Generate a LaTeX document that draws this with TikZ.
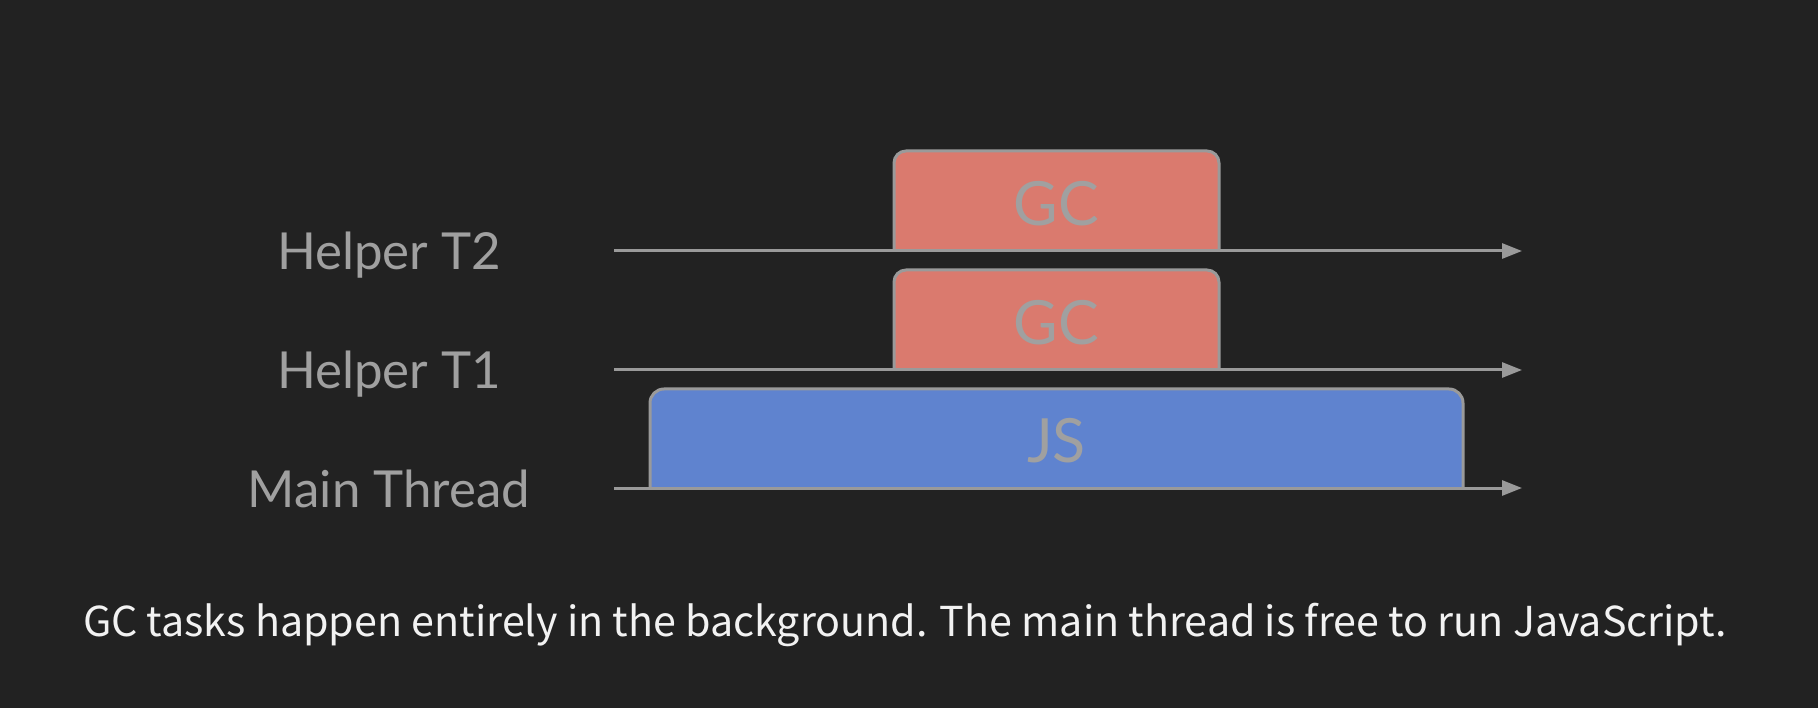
\documentclass[tikz,border=0pt]{standalone}
\usepackage{fontspec}
\usetikzlibrary{arrows.meta}
\newfontfamily\lblfont{Lato}
\newfontfamily\capfont{Noto Sans CJK KR}
\definecolor{bgc}{HTML}{222222}
\definecolor{linec}{HTML}{9A9A9A}
\definecolor{gcfill}{HTML}{DA7A6E}
\definecolor{jsfill}{HTML}{5F83CF}
\definecolor{txtc}{HTML}{A0A0A0}
\definecolor{capc}{HTML}{F2F2F2}
\tikzset{
  axis/.style={draw=linec, line width=3pt, -{Triangle[length=20pt,width=15pt]}},
  taskbox/.style={draw=linec, line width=3pt, rounded corners=12pt},
  boxarea/.style={inner sep=0pt, outer sep=0pt},
  boxtext/.style={inner sep=0pt, text=txtc, font=\lblfont\fontsize{61}{61}\selectfont},
  rowlbl/.style={anchor=base, text=txtc, inner sep=0pt, font=\lblfont\fontsize{51}{51}\selectfont},
}
\begin{document}
\begin{tikzpicture}[x=1pt,y=-1pt]
\useasboundingbox[fill=bgc] (0,0) rectangle (1818,708);
% axis start/end coordinates
\coordinate (s2) at (614,251); \coordinate (e2) at (1522,251);
\coordinate (s1) at (614,370); \coordinate (e1) at (1522,370);
\coordinate (s0) at (614,488); \coordinate (e0) at (1522,488);
% task box areas
\node[boxarea, minimum width=325pt, minimum height=100pt] (gc2) at (1056.5,201) {};
\node[boxarea, minimum width=325pt, minimum height=100pt] (gc1) at (1056.5,320) {};
\node[boxarea, minimum width=813pt, minimum height=99pt] (js) at (1056.5,438.5) {};
\path[taskbox, fill=gcfill] (gc2.south west) -- (gc2.north west) -- (gc2.north east) -- (gc2.south east);
\path[taskbox, fill=gcfill] (gc1.south west) -- (gc1.north west) -- (gc1.north east) -- (gc1.south east);
\path[taskbox, fill=jsfill, rounded corners=14pt] (js.south west) -- (js.north west) -- (js.north east) -- (js.south east);
\node[boxtext] (gc2t) at ([yshift=-3pt]gc2.center) {GC};
\node[boxtext] (gc1t) at ([yshift=-3pt]gc1.center) {GC};
\node[boxtext] (jst) at ([yshift=-2pt]js.center) {JS};
% axes
\draw[axis] (s2) -- (e2);
\draw[axis] (s1) -- (e1);
\draw[axis] (s0) -- (e0);
% row labels
\node[rowlbl] (l2) at (389,270) {Helper T2};
\node[rowlbl] (l1) at (389,389) {Helper T1};
\node[rowlbl] (l0) at (389,507) {Main Thread};
% caption
\node[anchor=base, text=capc, inner sep=0pt, font=\capfont\fontsize{41.2}{41.2}\selectfont] (cap) at (905,636) {GC tasks happen entirely in the background. The main thread is free to run JavaScript.};
\end{tikzpicture}
\end{document}
